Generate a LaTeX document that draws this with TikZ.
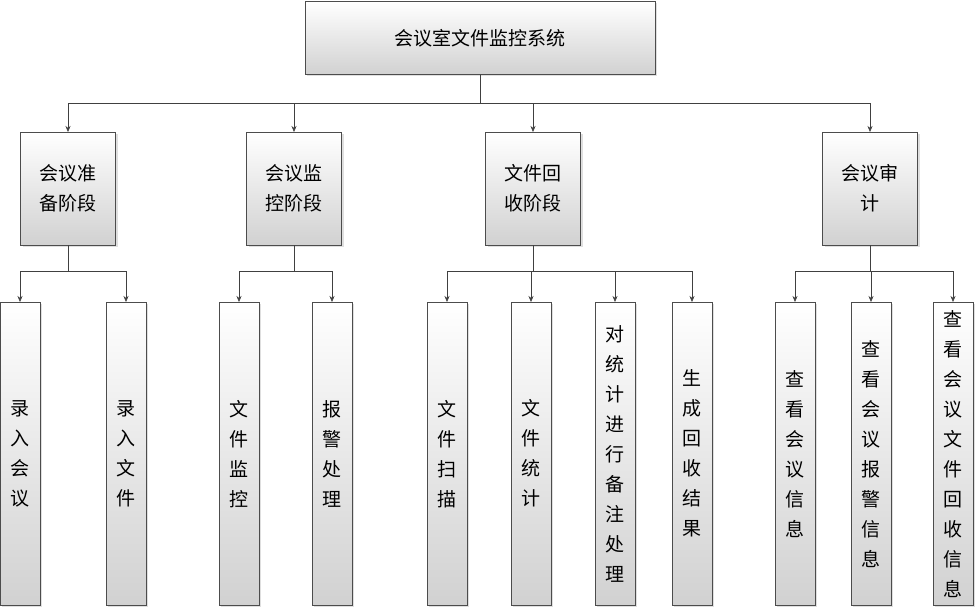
\documentclass[tikz,border=0pt]{standalone}
\usepackage{fontspec}
\newfontfamily\cjk{Noto Sans CJK SC}
\usetikzlibrary{positioning,shadows,arrows.meta}
\tikzset{
  box/.style={draw=black!70, top color=white, bottom color=black!18,
    drop shadow={shadow xshift=2pt, shadow yshift=-2pt, opacity=0.25},
    font=\cjk\fontsize{19}{30}\selectfont, align=center, inner sep=0pt},
  leaf/.style={box, minimum width=40pt, minimum height=303pt, anchor=north},
  mid/.style={box, minimum width=95pt, minimum height=113pt, anchor=north},
  link/.style={draw=black!75, -{Stealth[length=6pt,width=5pt]}}
}
\begin{document}
\begin{tikzpicture}[x=1pt,y=-1pt]
            \useasboundingbox (0,0) rectangle (976,607);
            % Root
            \node[box, minimum width=350pt, minimum height=73pt] (root) at (480,38) {会议室文件监控系统};
            % Stages
            \node[mid] (prep) at (68,132) {会议准\\备阶段};
            \node[mid] (mon) at (294,132) {会议监\\控阶段};
            \node[mid] (rec) at (533,132) {文件回\\收阶段};
            \node[mid] (aud) at (870,132) {会议审\\计};
            % Leaves
            \node[leaf] (p1) at (20,302) {录\\入\\会\\议};
            \node[leaf] (p2) at (126,302) {录\\入\\文\\件};
            \node[leaf] (m1) at (239,302) {文\\件\\监\\控};
            \node[leaf] (m2) at (332,302) {报\\警\\处\\理};
            \node[leaf] (r1) at (447,302) {文\\件\\扫\\描};
            \node[leaf] (r2) at (531,302) {文\\件\\统\\计};
            \node[leaf] (r3) at (615,302) {对\\统\\计\\进\\行\\备\\注\\处\\理};
            \node[leaf] (r4) at (692,302) {生\\成\\回\\收\\结\\果};
            \node[leaf] (a1) at (795,302) {查\\看\\会\\议\\信\\息};
            \node[leaf] (a2) at (871,302) {查\\看\\会\\议\\报\\警\\信\\息};
            \node[leaf] (a3) at (953,302) {查\\看\\会\\议\\文\\件\\回\\收\\信\\息};
            % Connectors
            \foreach \s in {prep,mon,rec,aud}
                \draw[link] (root.south) -- ++(0,28.5) -| (\s.north);
            \foreach \s/\l in {prep/p1,prep/p2,mon/m1,mon/m2,rec/r1,rec/r2,rec/r3,rec/r4,aud/a1,aud/a2,aud/a3}
                \draw[link] (\s.south) -- ++(0,26) -| (\l.north);
\end{tikzpicture}
\end{document}
